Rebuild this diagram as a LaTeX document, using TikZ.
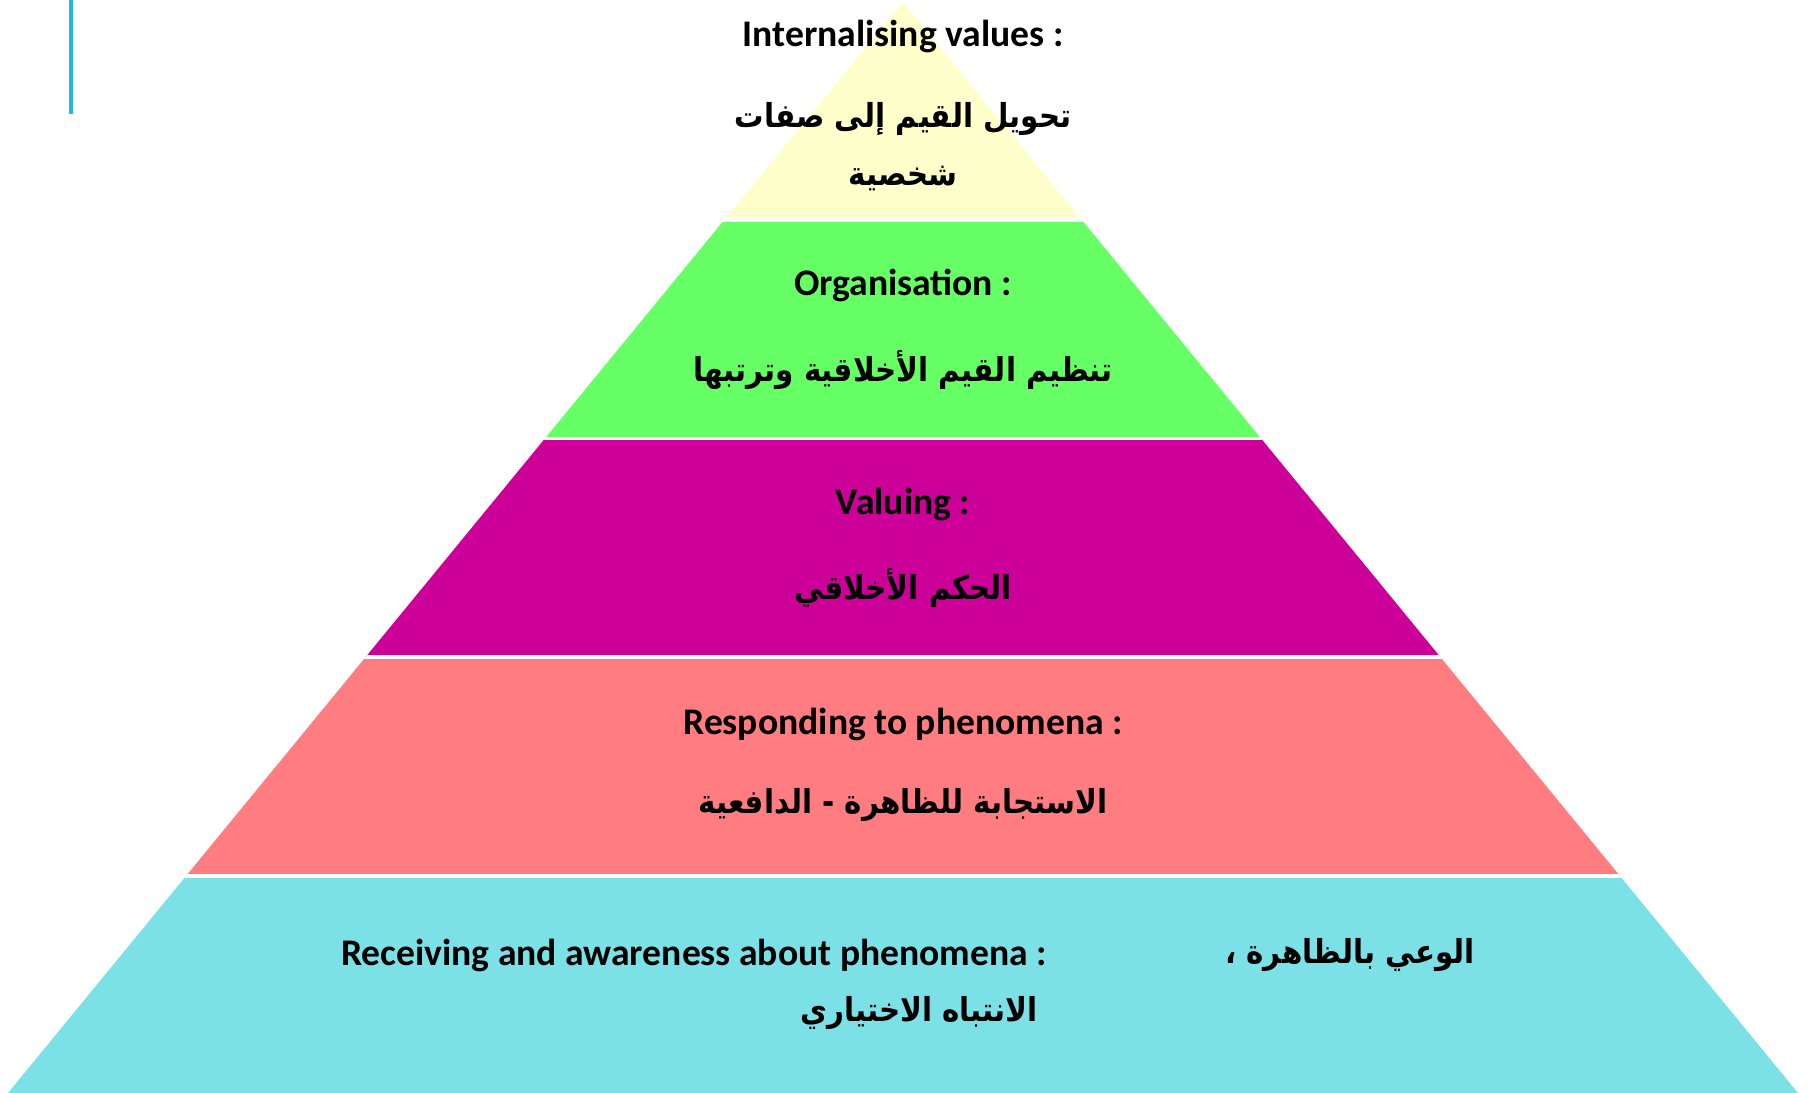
\documentclass[tikz,border=0pt]{standalone}
\usepackage{fontspec}
\newfontfamily\latinf{Carlito}
\newfontfamily\arabicfont[Script=Arabic,FakeStretch=0.89]{DejaVu Sans}
\TeXXeTstate=1
\definecolor{cYellow}{HTML}{FFFFCC}
\definecolor{cGreen}{HTML}{66FF66}
\definecolor{cMagenta}{HTML}{CC0099}
\definecolor{cRed}{HTML}{FF7C80}
\definecolor{cCyan}{HTML}{7CE1E6}
\definecolor{cBlue}{HTML}{27B6EC}
\tikzset{
  entxt/.style={inner sep=0pt, font=\latinf\bfseries\fontsize{18.8}{21}\selectfont},
  artxt/.style={inner sep=0pt, font=\arabicfont\bfseries\fontsize{16.5}{20}\selectfont},
  gapline/.style={draw=white, line width=1.6pt}
}
\begin{document}
\begin{tikzpicture}[x=0.5pt,y=-0.5pt]
\useasboundingbox (0,0) rectangle (1812,1093);
\fill[white] (0,0) rectangle (1812,1093);
% left accent line
\draw[cBlue, line width=2pt] (71,0) -- (71,114);
% pyramid
\begin{scope}
  \clip (903,2) -- (1798,1093) -- (8,1093) -- cycle;
  \fill[cYellow]  (0,0)   rectangle (1812,220);
  \fill[cGreen]   (0,220) rectangle (1812,438.5);
  \fill[cMagenta] (0,438.5) rectangle (1812,657);
  \fill[cRed]     (0,657) rectangle (1812,876);
  \fill[cCyan]    (0,876) rectangle (1812,1095);
  \draw[gapline] (0,220) -- (1812,220);
  \draw[gapline] (0,438.5) -- (1812,438.5);
  \draw[gapline] (0,657) -- (1812,657);
  \draw[gapline] (0,876) -- (1812,876);
\end{scope}
% texts
\node[entxt] (l1e) at (903,36) {Internalising values :};
\node[artxt] (l1a) at (903,119) {\beginR تحويل القيم إلى صفات\endR};
\node[artxt] (l1b) at (903,179) {\beginR شخصية\endR};
\node[entxt] (l2e) at (903,285) {Organisation :};
\node[artxt] (l2a) at (903,370) {\beginR تنظيم القيم الأخلاقية وترتبها\endR};
\node[entxt] (l3e) at (903,504) {Valuing :};
\node[artxt] (l3a) at (903,588) {\beginR الحكم الأخلاقي\endR};
\node[entxt] (l4e) at (903,724) {Responding to phenomena :};
\node[artxt] (l4a) at (903,805) {\beginR الاستجابة للظاهرة - الدافعية\endR};
\node[entxt] (l5e) at (694,955) {Receiving and awareness about phenomena :};
\node[artxt] (l5a) at (1350,955) {\beginR الوعي بالظاهرة ،\endR};
\node[artxt] (l5b) at (919,1013) {\beginR الانتباه الاختياري\endR};
\end{tikzpicture}
\end{document}
